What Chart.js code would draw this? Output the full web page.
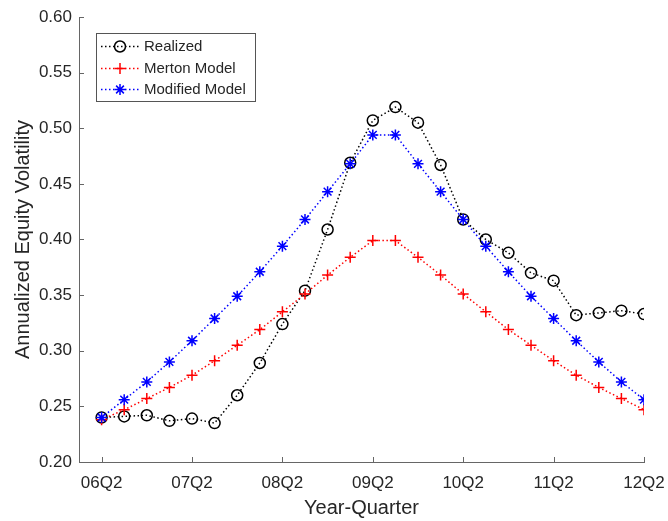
<!DOCTYPE html>
<html>
<head>
<meta charset="utf-8">
<script src="https://cdn.jsdelivr.net/npm/chart.js@4.4.1/dist/chart.umd.min.js"></script>
<style>
  body { margin: 0; background: #fff; }
  canvas { display: block; }
</style>
</head>
<body>
<canvas id="volChart" width="668" height="521"></canvas>
<script>
// quarters from 06Q2 to 12Q2
const quarters = ["06Q2","06Q3","06Q4","07Q1","07Q2","07Q3","07Q4","08Q1","08Q2","08Q3","08Q4",
                  "09Q1","09Q2","09Q3","09Q4","10Q1","10Q2","10Q3","10Q4","11Q1","11Q2","11Q3",
                  "11Q4","12Q1","12Q2"];
const xTickIdx = [0, 4, 8, 12, 16, 20, 24];

const realized = [0.240,0.241,0.242,0.237,0.239,0.235,0.260,0.289,0.324,0.354,0.409,0.469,0.507,
                  0.519,0.505,0.467,0.418,0.400,0.388,0.370,0.363,0.332,0.334,0.336,0.333];
const merton   = [0.238,0.247,0.257,0.267,0.278,0.291,0.305,0.319,0.335,0.351,0.368,0.384,0.399,
                  0.399,0.384,0.368,0.351,0.335,0.319,0.305,0.291,0.278,0.267,0.257,0.247];
const modified = [0.240,0.256,0.272,0.290,0.309,0.329,0.349,0.371,0.394,0.418,0.443,0.468,0.494,
                  0.494,0.468,0.443,0.418,0.394,0.371,0.349,0.329,0.309,0.290,0.272,0.256];

const axisColor = "#666";
const textColor = "#262626";
const fontFam = "'Liberation Sans', Arial, sans-serif";

const toPoints = arr => arr.map((v, i) => ({x: i, y: v}));

/* inward tick marks, like matlab */
const inwardTicks = {
    id: "inwardTicks",
    afterDatasetsDraw(chart) {
        const ctx = chart.ctx;
        const xs = chart.scales.x, ys = chart.scales.y;
        ctx.save();
        ctx.strokeStyle = axisColor;
        ctx.lineWidth = 1;
        ctx.beginPath();
        xs.ticks.forEach(t => {
            const px = Math.round(xs.getPixelForValue(t.value)) + 0.5;
            ctx.moveTo(px, ys.bottom);
            ctx.lineTo(px, ys.bottom - 5);
        });
        ys.ticks.forEach(t => {
            const py = Math.round(ys.getPixelForValue(t.value)) + 0.5;
            ctx.moveTo(xs.left, py);
            ctx.lineTo(xs.left + 5, py);
        });
        ctx.stroke();
        ctx.restore();
    }
};

/* legend box with line + marker samples */
const boxLegend = {
    id: "boxLegend",
    afterDraw(chart) {
        const ctx = chart.ctx;
        const bx = 96.5, by = 33.5, bw = 159, bh = 68;
        ctx.save();
        ctx.fillStyle = "#fff";
        ctx.fillRect(bx, by, bw, bh);
        ctx.strokeStyle = "#555";
        ctx.lineWidth = 1;
        ctx.strokeRect(bx, by, bw, bh);
        const rows = [46.5, 68.5, 89.5];
        chart.data.datasets.forEach((ds, i) => {
            const y = rows[i];
            ctx.strokeStyle = ds.borderColor;
            ctx.lineWidth = ds.borderWidth;
            ctx.setLineDash(ds.borderDash);
            ctx.beginPath();
            ctx.moveTo(101, y);
            ctx.lineTo(139, y);
            ctx.stroke();
            ctx.setLineDash([]);
            ctx.fillStyle = "rgba(0,0,0,0)";
            ctx.lineWidth = ds.pointBorderWidth;
            Chart.helpers.drawPoint(ctx, {
                pointStyle: ds.pointStyle, rotation: 0,
                radius: ds.pointRadius, borderWidth: ds.pointBorderWidth
            }, 120, y);
            ctx.fillStyle = textColor;
            ctx.font = "15px " + fontFam;
            ctx.textBaseline = "middle";
            ctx.fillText(ds.label, 144, y + 0.5);
        });
        ctx.restore();
    }
};

new Chart(document.getElementById("volChart"), {
    type: "line",
    data: {
        datasets: [
            {label: "Realized", data: toPoints(realized), borderColor: "#000", borderWidth: 1.5,
             borderDash: [1.5, 2.5], pointStyle: "circle", pointRadius: 5.5, pointBorderWidth: 1.5,
             pointBackgroundColor: "rgba(0,0,0,0)", pointBorderColor: "#000", order: 3},
            {label: "Merton Model", data: toPoints(merton), borderColor: "#ff0000", borderWidth: 1.5,
             borderDash: [1.5, 2.5], pointStyle: "cross", pointRadius: 5.5, pointBorderWidth: 1.5,
             pointBorderColor: "#ff0000", order: 2},
            {label: "Modified Model", data: toPoints(modified), borderColor: "#0000ff", borderWidth: 1.5,
             borderDash: [1.5, 2.5], pointStyle: "star", pointRadius: 5.5, pointBorderWidth: 1.5,
             pointBorderColor: "#0000ff", order: 1}
        ]
    },
    options: {
        responsive: false,
        animation: false,
        layout: {padding: {top: 17, right: 24, bottom: 0, left: 0}},
        plugins: {legend: {display: false}, tooltip: {enabled: false}},
        scales: {
            x: {
                type: "linear", min: -1, max: 24,
                afterBuildTicks: s => { s.ticks = xTickIdx.map(v => ({value: v})); },
                afterFit: s => { s.height = 59; s.paddingLeft = 0; s.paddingRight = 0; },
                grid: {display: false, drawTicks: false},
                border: {display: true, color: axisColor, width: 1},
                ticks: {
                    padding: 11, color: textColor, maxRotation: 0, autoSkip: false,
                    font: {family: fontFam, size: 17},
                    callback: v => quarters[v]
                },
                title: {display: true, text: "Year-Quarter", color: textColor,
                        font: {family: fontFam, size: 20}, padding: {top: 0, bottom: 1}}
            },
            y: {
                min: 0.2, max: 0.6,
                afterFit: s => { s.width = 79; s.paddingTop = 0; s.paddingBottom = 0; },
                grid: {display: false, drawTicks: false},
                border: {display: true, color: axisColor, width: 1},
                ticks: {
                    stepSize: 0.05, padding: 7, color: textColor,
                    font: {family: fontFam, size: 17},
                    callback: v => v.toFixed(2)
                },
                title: {display: true, text: "Annualized Equity Volatility", color: textColor,
                        font: {family: fontFam, size: 20}, padding: {top: 11, bottom: 0}}
            }
        }
    },
    plugins: [inwardTicks, boxLegend]
});
</script>
</body>
</html>
